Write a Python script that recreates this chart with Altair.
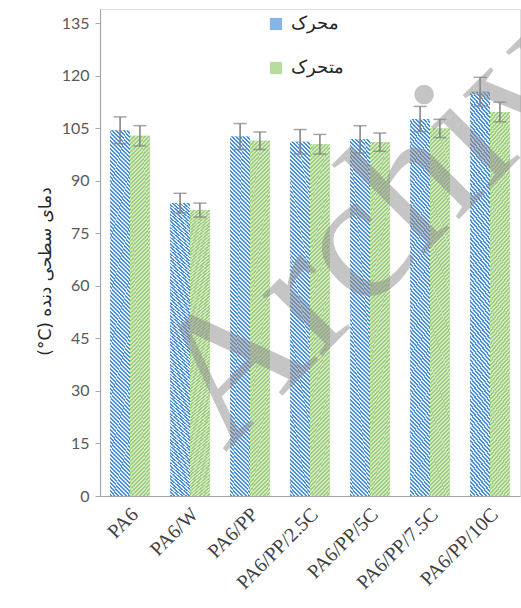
import altair as alt
import pandas as pd

categories = ["PA6", "PA6/W", "PA6/PP", "PA6/PP/2.5C", "PA6/PP/5C", "PA6/PP/7.5C", "PA6/PP/10C"]
series = ["محرک", "متحرک"]
driver_vals = [104.4, 83.6, 102.6, 101.1, 101.8, 107.6, 115.4]
driver_err = [3.8, 2.8, 3.7, 3.5, 3.9, 3.6, 4.1]
driven_vals = [102.8, 81.6, 101.4, 100.4, 101.0, 104.9, 109.6]
driven_err = [2.9, 2.0, 2.5, 2.8, 2.6, 2.6, 2.8]
y_ticks = [0, 15, 30, 45, 60, 75, 90, 105, 120, 135]
watermark = ["Archive of SID"]

rows = []
for i, c in enumerate(categories):
    rows.append({"cat": c, "s": series[0], "v": driver_vals[i], "lo": driver_vals[i] - driver_err[i], "hi": driver_vals[i] + driver_err[i]})
    rows.append({"cat": c, "s": series[1], "v": driven_vals[i], "lo": driven_vals[i] - driven_err[i], "hi": driven_vals[i] + driven_err[i]})
df = pd.DataFrame(rows)


def hatch(c_line, c_bg, n, x1, y1, x2, y2, frac=0.5):
    stops = []
    for k in range(n):
        a = k / n
        b = (k + frac) / n
        e = (k + 1) / n
        stops += [{"offset": a, "color": c_line}, {"offset": b, "color": c_line},
                  {"offset": b, "color": c_bg}, {"offset": e, "color": c_bg}]
    return {"gradient": "linear", "x1": x1, "y1": y1, "x2": x2, "y2": y2, "stops": stops}


K = 17.0
s = (1 + K) / (1 + K * K)
blue_fill = hatch("#4a8ed6", "#e6f0fa", 95, 0, 1, s, 1 - s * K)
green_fill = hatch("#9fcd80", "#d3eac4", 95, 0, 0, s, s * K)

xenc = alt.X("cat:N", sort=categories,
             scale=alt.Scale(paddingInner=0.34, paddingOuter=0.17),
             axis=alt.Axis(title=None, labelAngle=-45, labelAlign="right", labelBaseline="middle",
                           labelFont="Liberation Serif", labelFontSize=20, labelColor="#404040",
                           labelPadding=15, labelOffset=5, ticks=False,
                           domainColor="#a6a6a6", domainWidth=1.2))
xoff = alt.XOffset("s:N", sort=series, scale=alt.Scale(paddingInner=0, paddingOuter=0))

yscale = alt.Scale(domain=[0, 139], nice=False)
color = alt.Color("s:N", sort=series,
                  scale=alt.Scale(domain=series, range=["#86b6e6", "#b8dca0"]),
                  legend=alt.Legend(title=None, orient="none", legendX=167, legendY=6,
                                    symbolType="square", symbolSize=150, symbolStrokeWidth=0,
                                    labelFontSize=18, labelFont="DejaVu Serif", labelColor="#262626",
                                    rowPadding=26, labelOffset=6))

bars = alt.Chart(df).mark_bar().encode(
    x=xenc, xOffset=xoff,
    y=alt.Y("v:Q", scale=yscale,
            axis=alt.Axis(values=y_ticks, title="(°C) دمای سطحی دنده", titleFontSize=17,
                          titleFont="DejaVu Sans", titleFontWeight="normal", titleColor="#262626",
                          titleAngle=270, titleX=-55, titleY=262, titleAlign="center",
                          titleBaseline="middle",
                          labelFont="Lato", labelFontSize=16, labelColor="#595959",
                          labelPadding=6, tickSize=5, tickColor="#a6a6a6",
                          domainColor="#a6a6a6", domainWidth=1.2, grid=False)),
    color=color,
)

hatch_blue = alt.Chart(df).transform_filter(alt.datum.s == series[0]).mark_bar(fill=blue_fill).encode(
    x=alt.X("cat:N", sort=categories), xOffset=xoff, y=alt.Y("v:Q", scale=yscale),
)
hatch_green = alt.Chart(df).transform_filter(alt.datum.s == series[1]).mark_bar(fill=green_fill).encode(
    x=alt.X("cat:N", sort=categories), xOffset=xoff, y=alt.Y("v:Q", scale=yscale),
)

err = alt.Chart(df).mark_rule(color="#7f7f7f", strokeWidth=1.5).encode(
    x=alt.X("cat:N", sort=categories), xOffset=xoff,
    y=alt.Y("lo:Q", scale=yscale), y2="hi:Q",
)
cap_lo = alt.Chart(df).mark_tick(color="#7f7f7f", thickness=1.5, size=13, orient="horizontal").encode(
    x=alt.X("cat:N", sort=categories), xOffset=xoff, y=alt.Y("lo:Q", scale=yscale),
)
cap_hi = alt.Chart(df).mark_tick(color="#7f7f7f", thickness=1.5, size=13, orient="horizontal").encode(
    x=alt.X("cat:N", sort=categories), xOffset=xoff, y=alt.Y("hi:Q", scale=yscale),
)

wm = alt.Chart(pd.DataFrame({"t": watermark})).mark_text(
    font="Liberation Serif", fontSize=185, color="#8c8c8c", opacity=0.5,
    angle=315, align="left", baseline="alphabetic",
).encode(text="t:N", x=alt.value(125), y=alt.value(444))

chart = alt.layer(bars, hatch_blue, hatch_green, err, cap_lo, cap_hi, wm).resolve_scale(x="shared").properties(
    width=420, height=487,
    autosize=alt.AutoSizeParams(type="none"),
    padding={"left": 100, "top": 9, "right": 1, "bottom": 112},
).configure_view(stroke=None).configure(background="white")

chart.save("out.html", embed_options={"renderer": "svg", "actions": False})
